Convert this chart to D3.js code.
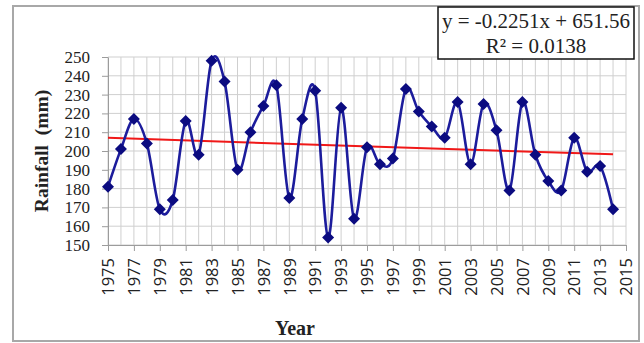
<!DOCTYPE html>
<html>
<head>
<meta charset="utf-8">
<script src="https://cdn.jsdelivr.net/npm/d3@7"></script>
<style>
  body { margin: 0; background: #fff; }
  svg { display: block; }
</style>
</head>
<body>
<div id="container"></div>
<script>
// data
var years = [1975, 1976, 1977, 1978, 1979, 1980, 1981, 1982, 1983, 1984,
             1985, 1986, 1987, 1988, 1989, 1990, 1991, 1992, 1993, 1994,
             1995, 1996, 1997, 1998, 1999, 2000, 2001, 2002, 2003, 2004,
             2005, 2006, 2007, 2008, 2009, 2010, 2011, 2012, 2013, 2014];
var rainfall = [181, 201, 217, 204, 169, 174, 216, 198, 248, 237,
                190, 210, 224, 235, 175, 217, 232, 154, 223, 164,
                202, 193, 196, 233, 221, 213, 207, 226, 193, 225,
                211, 179, 226, 198, 184, 179, 207, 189, 192, 169];
var xTicks = [1975, 1977, 1979, 1981, 1983, 1985, 1987, 1989, 1991, 1993, 1995,
              1997, 1999, 2001, 2003, 2005, 2007, 2009, 2011, 2013, 2015];
var yTicks = [150, 160, 170, 180, 190, 200, 210, 220, 230, 240, 250];
var trendSlope = -0.2251, trendIntercept = 651.56;
var eqLine1 = "y = -0.2251x + 651.56";
var eqLine2 = "R\u00b2 = 0.0138";

var W = 644, H = 343;
var margin = {top: 57, right: 18, bottom: 98, left: 108},
    width = 626 - margin.left,
    height = 245 - margin.top;

var svg = d3.select("#container")
  .append("svg")
    .attr("width", W)
    .attr("height", H);

// outer chart border
svg.append("rect")
  .attr("x", 13).attr("y", 6)
  .attr("width", 626).attr("height", 335)
  .attr("fill", "#fff")
  .attr("stroke", "#a8a8a8")
  .attr("stroke-width", 2);

var g = svg.append("g")
  .attr("transform", "translate(" + margin.left + "," + margin.top + ")");

var x = d3.scaleLinear().domain([1975, 2015]).range([0, width]);
var y = d3.scaleLinear().domain([150, 250]).range([height, 0]);

// gridlines
g.append("g")
  .selectAll("line")
  .data(d3.range(1975, 2016))
  .join("line")
    .attr("x1", function(d) { return x(d); })
    .attr("x2", function(d) { return x(d); })
    .attr("y1", 0).attr("y2", height)
    .attr("stroke", "#cfcfcf").attr("stroke-width", 1);
g.append("g")
  .selectAll("line")
  .data(yTicks)
  .join("line")
    .attr("x1", 0).attr("x2", width)
    .attr("y1", function(d) { return y(d); })
    .attr("y2", function(d) { return y(d); })
    .attr("stroke", "#cfcfcf").attr("stroke-width", 1);

// y axis
var yAxis = g.append("g")
  .call(d3.axisLeft(y).tickValues(yTicks).tickSize(6).tickPadding(12).tickSizeOuter(0));
yAxis.select(".domain").attr("stroke", "#9c9c9c");
yAxis.selectAll(".tick line").attr("stroke", "#9c9c9c");
yAxis.selectAll("text")
  .attr("font-family", "'Liberation Serif', 'Times New Roman', serif")
  .attr("font-size", 17)
  .attr("fill", "#222");

// x axis
var xAxis = g.append("g")
  .attr("transform", "translate(0," + height + ")")
  .call(d3.axisBottom(x).tickValues(xTicks).tickFormat(d3.format("d")).tickSize(6).tickSizeOuter(0));
xAxis.select(".domain").attr("stroke", "#9c9c9c");
xAxis.selectAll(".tick line").attr("stroke", "#9c9c9c");
xAxis.selectAll("text")
  .attr("font-family", "'Open Sans', 'Noto Sans', sans-serif")
  .attr("font-size", 16.5)
  .attr("fill", "#222")
  .attr("text-anchor", "end")
  .attr("y", 0).attr("dy", "0.35em")
  .attr("transform", "translate(0,13) rotate(-90)");

// trend line
g.append("line")
  .attr("x1", x(years[0]))
  .attr("y1", y(trendSlope * years[0] + trendIntercept))
  .attr("x2", x(years[years.length - 1]))
  .attr("y2", y(trendSlope * years[years.length - 1] + trendIntercept))
  .attr("stroke", "#f01818")
  .attr("stroke-width", 2);

// smoothed series line
var data = years.map(function(d, i) { return {year: d, value: rainfall[i]}; });
g.append("path")
  .datum(data)
  .attr("fill", "none")
  .attr("stroke", "#1c1c9c")
  .attr("stroke-width", 2.6)
  .attr("d", d3.line()
    .curve(d3.curveCardinal.tension(0))
    .x(function(d) { return x(d.year); })
    .y(function(d) { return y(d.value); }));

// diamond markers
g.append("g")
  .selectAll("path")
  .data(data)
  .join("path")
    .attr("transform", function(d) { return "translate(" + x(d.year) + "," + y(d.value) + ")"; })
    .attr("d", "M0,-6L6,0L0,6L-6,0Z")
    .attr("fill", "#0b0b80");

// axis titles
svg.append("text")
  .attr("transform", "translate(48,151) rotate(-90)")
  .attr("text-anchor", "middle")
  .attr("font-family", "'Liberation Serif', 'Times New Roman', serif")
  .attr("font-weight", "bold")
  .attr("font-size", 19.5)
  .attr("fill", "#222")
  .style("white-space", "pre")
  .text("Rainfall  (mm)");

svg.append("text")
  .attr("x", 295).attr("y", 335)
  .attr("text-anchor", "middle")
  .attr("font-family", "'Liberation Serif', 'Times New Roman', serif")
  .attr("font-weight", "bold")
  .attr("font-size", 20)
  .attr("fill", "#222")
  .text("Year");

// equation box
svg.append("rect")
  .attr("x", 438).attr("y", 7)
  .attr("width", 196).attr("height", 52)
  .attr("fill", "#fff")
  .attr("stroke", "#111")
  .attr("stroke-width", 1.5);
svg.append("text")
  .attr("x", 536).attr("y", 28)
  .attr("text-anchor", "middle")
  .attr("font-family", "'Liberation Serif', 'Times New Roman', serif")
  .attr("font-size", 21)
  .attr("fill", "#222")
  .text(eqLine1);
svg.append("text")
  .attr("x", 536).attr("y", 53)
  .attr("text-anchor", "middle")
  .attr("font-family", "'Liberation Serif', 'Times New Roman', serif")
  .attr("font-size", 21)
  .attr("fill", "#222")
  .text(eqLine2);
</script>
</body>
</html>
